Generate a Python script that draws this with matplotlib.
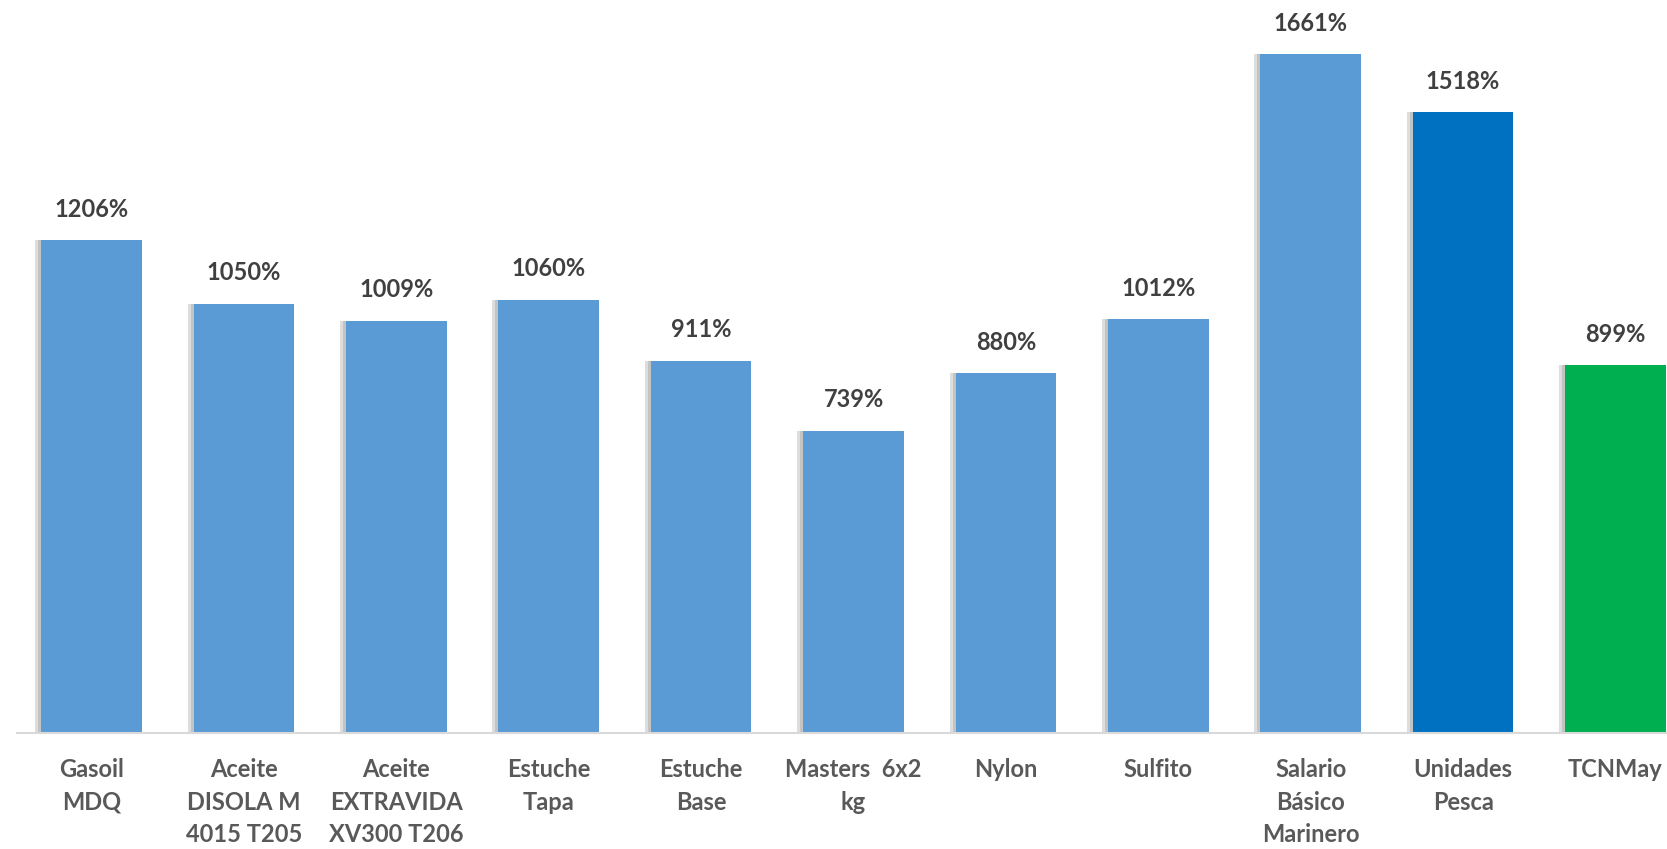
import matplotlib.pyplot as plt

categories = ['Gasoil\nMDQ', 'Aceite\nDISOLA M\n4015 T205', 'Aceite\nEXTRAVIDA\nXV300 T206',
              'Estuche\nTapa', 'Estuche\nBase', 'Masters  6x2\nkg', 'Nylon', 'Sulfito',
              'Salario\nBásico\nMarinero', 'Unidades\nPesca', 'TCNMay']
values = [1206, 1050, 1009, 1060, 911, 739, 880, 1012, 1661, 1518, 899]
colors = ['#5B9BD5'] * 9 + ['#0070C0', '#00B050']

plt.rcParams['font.family'] = ['Lato', 'DejaVu Sans']

fig = plt.figure(figsize=(16.67, 8.49), dpi=100)
ax = fig.add_axes([17 / 1667, (849 - 733) / 849, 1 - 17 / 1667, 733 / 849])

x = list(range(len(values)))
# soft shadow on the left side of the bars
ax.bar([i - 0.04 for i in x], values, width=0.66, color='#9e9e9e', alpha=0.35, zorder=1)
ax.bar([i - 0.02 for i in x], values, width=0.66, color='#9e9e9e', alpha=0.4, zorder=1)
ax.bar(x, values, width=0.66, color=colors, zorder=2)

for i, v in zip(x, values):
    ax.annotate(f'{v}%', (i, v), xytext=(0, 14), textcoords='offset points',
                ha='center', va='bottom', fontsize=17, fontweight='bold', color='#404040')

ax.set_xlim(-0.489, 10.338)
ax.set_ylim(0, 1793)
ax.set_yticks([])
ax.set_xticks(x)
ax.set_xticklabels(categories, fontsize=17, fontweight='bold', color='#595959', linespacing=1.5, va='top')
ax.tick_params(axis='x', length=0, pad=18)
for s in ['top', 'right', 'left']:
    ax.spines[s].set_visible(False)
ax.spines['bottom'].set_color('#d9d9d9')
ax.spines['bottom'].set_linewidth(1.5)

fig.savefig('out.png', dpi=100)
